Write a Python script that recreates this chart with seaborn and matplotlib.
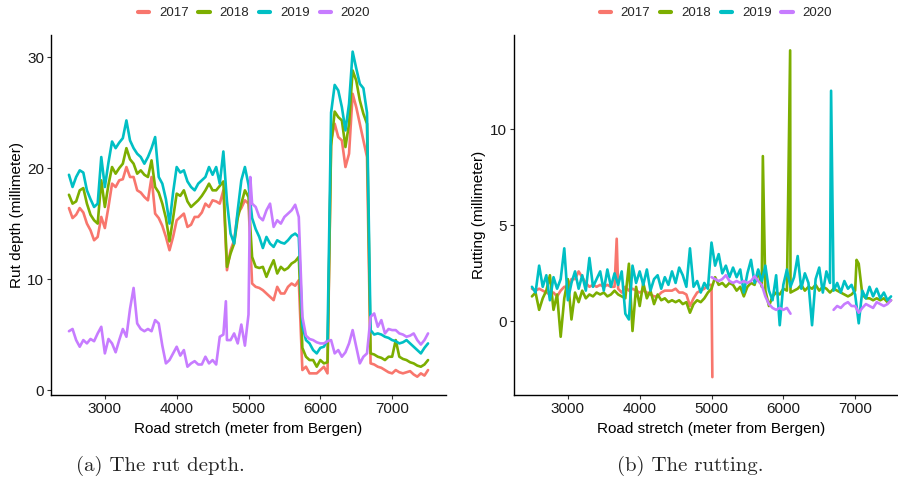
import numpy as np
import pandas as pd
import matplotlib
matplotlib.use("Agg")
import matplotlib.pyplot as plt
import seaborn as sns
from matplotlib.lines import Line2D

sns.set_theme(style="white")
plt.rcParams["font.family"] = ["Liberation Sans", "DejaVu Sans"]

years = ["2017", "2018", "2019", "2020"]
colors = ["#F8766D", "#7CAE00", "#00BFC4", "#C77CFF"]
stretch = list(range(2500, 7501, 50))
stretch_17r = list(range(2500, 5001, 50))
nan = np.nan

# ---------------- (a) rut depth ----------------
depth_2017 = [16.4, 15.5, 15.8, 16.4, 16.0, 15.0, 14.4, 13.5, 13.8, 15.6,
              14.6, 16.5, 18.6, 18.3, 18.9, 19.0, 20.1, 19.2, 19.2, 18.0,
              17.8, 17.4, 17.1, 19.2, 15.9, 15.5, 14.8, 13.8, 12.6, 13.8,
              15.3, 15.6, 15.9, 14.7, 14.9, 15.6, 15.6, 16.0, 16.8, 16.5,
              17.1, 17.0, 16.8, 18.0, 10.8, 12.6, 13.5, 15.9, 16.4, 17.1,
              16.8, 9.6, 9.3, 9.2, 9.0, 8.7, 8.4, 8.1, 9.3, 8.7,
              8.7, 9.3, 9.6, 9.4, 9.9, 1.8, 2.1, 1.5, 1.5, 1.5,
              1.8, 2.1, 1.5, 22.5, 24.0, 22.8, 22.5, 20.1, 21.3, 26.7,
              25.5, 24.0, 22.5, 21.0, 2.4, 2.3, 2.1, 2.0, 1.8, 1.6,
              1.5, 1.8, 1.6, 1.5, 1.6, 1.7, 1.4, 1.2, 1.5, 1.3,
              1.8]
depth_2018 = [17.6, 16.8, 17.0, 18.0, 18.2, 16.8, 15.8, 15.3, 15.0, 18.9,
              16.5, 18.5, 20.1, 19.5, 20.0, 20.4, 21.8, 20.8, 20.4, 19.5,
              19.8, 19.4, 19.2, 20.7, 18.3, 17.8, 16.8, 15.5, 13.4, 15.5,
              17.7, 17.5, 18.0, 17.0, 16.5, 16.8, 17.1, 17.5, 18.0, 18.6,
              18.0, 18.0, 18.4, 18.8, 11.1, 12.3, 13.2, 15.5, 16.8, 18.0,
              17.4, 12.0, 11.1, 11.0, 11.1, 10.2, 11.0, 11.7, 10.5, 11.1,
              10.8, 11.0, 11.4, 11.6, 12.0, 3.8, 3.0, 2.7, 2.7, 2.1,
              2.7, 2.4, 2.5, 22.0, 25.1, 24.6, 24.3, 21.9, 24.0, 28.8,
              27.9, 26.1, 24.9, 24.0, 3.3, 3.2, 3.0, 2.9, 2.7, 3.0,
              3.0, 4.5, 3.0, 2.8, 2.7, 2.5, 2.4, 2.2, 2.1, 2.3,
              2.7]
depth_2019 = [19.4, 18.3, 19.2, 19.8, 19.6, 18.0, 17.2, 16.5, 16.8, 21.0,
              18.3, 20.5, 22.4, 21.8, 22.3, 22.7, 24.3, 22.5, 21.8, 21.3,
              21.0, 20.4, 21.0, 21.8, 22.8, 19.2, 18.6, 17.2, 15.0, 17.8,
              20.1, 19.6, 19.8, 18.8, 18.3, 18.0, 18.6, 18.9, 19.2, 20.1,
              19.4, 20.1, 18.6, 21.5, 17.0, 14.1, 13.2, 16.2, 18.9, 20.1,
              18.5, 15.5, 14.5, 13.8, 12.8, 13.8, 13.2, 12.9, 13.5, 13.3,
              13.2, 13.5, 13.9, 14.1, 13.8, 5.8, 4.5, 4.2, 3.6, 3.3,
              3.8, 3.9, 4.5, 25.0, 27.5, 27.0, 25.5, 23.4, 25.8, 30.5,
              29.0, 27.6, 27.2, 25.0, 5.4, 5.0, 5.1, 5.0, 4.8, 4.7,
              4.5, 4.4, 4.2, 4.3, 4.5, 4.2, 3.9, 3.6, 3.3, 3.8,
              4.2]
depth_2020 = [5.3, 5.5, 4.5, 3.9, 4.5, 4.2, 4.6, 4.4, 5.1, 5.7,
              3.3, 4.6, 4.2, 3.4, 4.5, 5.5, 4.8, 7.3, 9.2, 6.0,
              5.5, 5.3, 5.5, 5.3, 6.3, 6.0, 4.0, 2.4, 2.7, 3.3,
              3.9, 3.1, 3.6, 2.1, 2.4, 2.6, 2.3, 2.3, 3.0, 2.4,
              2.7, 2.3, 4.8, 5.0, 4.5, 4.5, 5.1, 4.2, 5.9, 4.0,
              6.8, 16.8, 16.5, 15.6, 15.3, 16.2, 16.8, 14.7, 15.3, 15.0,
              15.6, 15.9, 16.2, 16.7, 15.6, 6.6, 4.9, 4.6, 4.5, 4.3,
              4.2, 4.2, 4.4, 4.5, 3.3, 3.6, 3.0, 3.4, 4.2, 5.4,
              3.9, 2.4, 3.0, 3.3, 6.6, 6.9, 5.7, 6.3, 5.1, 5.5,
              5.4, 5.4, 5.1, 5.0, 4.8, 4.9, 5.1, 4.5, 4.1, 4.5,
              5.1]
depth_2020_extra_x = [4685, 5025]
depth_2020_extra_y = [8.0, 19.2]

# ---------------- (b) rutting ----------------
rut_2017 = [1.7, 1.6, 1.7, 1.6, 1.5, 1.4, 1.5, 1.3, 1.6, 1.8,
            1.8, 2.2, 2.2, 2.6, 2.3, 2.0, 1.8, 1.9, 1.8, 1.9,
            1.8, 1.9, 1.8, 1.8, 1.7, 1.5, 1.8, 1.6, 1.7, 1.6,
            1.5, 1.6, 1.5, 1.4, 1.3, 1.3, 1.5, 1.6, 1.6, 1.6,
            1.7, 1.5, 1.5, 1.4, 0.8, 1.2, 1.5, 1.6, 1.7, 1.9,
            1.9]
rut_2017_extra_x = [3680, 5012]
rut_2017_extra_y = [4.3, -2.9]
rut_2018 = [1.3, 1.5, 0.6, 1.2, 1.6, 2.4, 0.6, 1.4, -0.8, 1.2,
            2.2, 0.1, 1.5, 1.0, 1.6, 1.2, 1.4, 1.3, 1.5, 1.4,
            1.5, 1.3, 1.4, 1.6, 1.4, 1.3, 1.2, 3.0, -0.5, 1.8,
            0.8, 2.0, 1.2, 1.6, 0.9, 1.4, 1.1, 1.2, 1.0, 1.1,
            1.0, 1.1, 0.9, 1.0, 0.45, 0.9, 1.1, 1.0, 1.2, 1.5,
            1.7, 2.3, 1.9, 2.0, 1.8, 2.0, 1.9, 1.6, 1.8, 1.3,
            1.8, 2.0, 1.9, 2.6, 1.8, 1.6, 0.8, 1.3, 1.5, 1.4,
            1.7, 1.6, 1.5, 1.6, 1.7, 1.9, 1.6, 1.8, 1.7, 1.9,
            1.6, 1.8, 1.7, 1.5, 1.7, 1.6, 1.5, 1.4, 1.3, 1.4,
            1.6, 3.0, 1.4, 1.2, 1.2, 1.1, 1.2, 1.1, 1.2, 1.0,
            1.1]
rut_2018_extra_x = [5715, 6095, 7020]
rut_2018_extra_y = [8.6, 14.1, 3.2]
rut_2019 = [1.8, 1.5, 2.9, 1.8, 2.4, 1.1, 2.3, 1.7, 2.2, 3.8,
            1.1, 2.0, 2.6, 1.7, 2.4, 1.6, 3.3, 1.8, 2.2, 2.6,
            1.6, 2.7, 1.8, 2.5, 1.9, 2.6, 0.4, 0.1, 2.9, 2.0,
            2.6, 1.9, 2.7, 1.6, 2.2, 2.4, 1.7, 2.3, 1.9, 2.6,
            2.0, 2.8, 2.4, 1.8, 3.8, 1.8, 2.1, 1.5, 2.0, 1.7,
            4.1, 2.9, 3.5, 2.5, 2.9, 2.3, 2.8, 2.3, 2.7, 1.5,
            2.5, 3.2, 2.0, 2.7, 2.1, 2.9, 1.6, 1.1, 2.4, -0.2,
            1.9, 2.7, 1.8, 2.3, 3.4, 1.7, 2.5, 2.0, -0.2, 2.2,
            2.8, 1.5, 2.6, 2.0, 1.6, 2.0, 1.5, 2.1, 1.7, 1.9,
            1.4, -0.1, 1.6, 1.2, 1.8, 1.3, 1.7, 1.2, 1.5, 1.1,
            1.3]
rut_2019_extra_x = [6665]
rut_2019_extra_y = [12.0]
rut_2020 = [nan] * 50 + [
            2.3, 2.2, 2.1, 2.2, 2.4, 2.1, 2.0, 2.1, 2.0, 2.1,
            2.0, 2.1, 2.35, 2.1, 1.9, 1.3, 0.9, 0.7, 0.6, 0.7,
            0.6, 0.7, 0.4, nan, nan, nan, nan, nan, nan, nan,
            nan, nan, nan, nan, 0.6, 0.8, 0.7, 0.9, 1.0, 0.8,
            0.8, 0.45, 0.7, 0.9, 0.8, 0.7, 1.0, 0.9, 0.8, 0.9,
            1.1]


def frame(year, xs, ys, ex_x=(), ex_y=()):
    d = pd.DataFrame({"stretch": list(xs) + list(ex_x),
                      "value": list(ys) + list(ex_y)})
    d = d.sort_values("stretch").reset_index(drop=True)
    seg = d["value"].isna().cumsum()
    d["seg"] = year + "_" + seg.astype(str)
    d["year"] = year
    return d.dropna()


df_a = pd.concat([
    frame("2017", stretch, depth_2017),
    frame("2018", stretch, depth_2018),
    frame("2019", stretch, depth_2019),
    frame("2020", stretch, depth_2020, depth_2020_extra_x, depth_2020_extra_y),
])
df_b = pd.concat([
    frame("2017", stretch_17r, rut_2017, rut_2017_extra_x, rut_2017_extra_y),
    frame("2018", stretch, rut_2018, rut_2018_extra_x, rut_2018_extra_y),
    frame("2019", stretch, rut_2019, rut_2019_extra_x, rut_2019_extra_y),
    frame("2020", stretch, rut_2020),
])

W, H = 898, 483
fig = plt.figure(figsize=(W / 100, H / 100), dpi=100)
pal = dict(zip(years, colors))

ax1 = fig.add_axes([51 / W, 1 - 395 / H, 395 / W, 360 / H])
ax2 = fig.add_axes([514 / W, 1 - 395 / H, 395 / W, 360 / H])

for ax, d, lx in ((ax1, df_a, 0.514), (ax2, df_b, 0.511)):
    sns.lineplot(data=d, x="stretch", y="value", hue="year", hue_order=years,
                 units="seg", estimator=None, palette=pal, lw=1.9,
                 legend=False, ax=ax, sort=True)
    ax.set_facecolor("white")
    for s in ("top", "right"):
        ax.spines[s].set_visible(False)
    for s in ("left", "bottom"):
        ax.spines[s].set_color("black")
        ax.spines[s].set_linewidth(1.0)
    ax.set_xlim(2250, 7750)
    ax.set_xticks([3000, 4000, 5000, 6000, 7000])
    ax.tick_params(axis="both", length=3, width=0.8, color="#333333",
                   labelsize=11, labelcolor="#1a1a1a", pad=2,
                   bottom=True, left=True)
    ax.set_xlabel("Road stretch (meter from Bergen)", fontsize=11, color="black")
    ax.xaxis.set_label_coords(0.5, -0.075)
    ax.grid(False)
    handles = [Line2D([], [], color=c, lw=3) for c in colors]
    ax.legend(handles, years, loc="center", bbox_to_anchor=(lx, 1.061),
              ncol=4, frameon=False, fontsize=9.5, handlelength=0.85,
              handletextpad=0.75, columnspacing=0.75, borderpad=0.2)

ax1.set_ylim(-0.45, 32.0)
ax1.set_yticks([0, 10, 20, 30])
ax1.set_ylabel("Rut depth (millimeter)", fontsize=11, color="black")
ax1.yaxis.set_label_coords(-0.068, 0.5)

ax2.set_ylim(-3.83, 14.9)
ax2.set_yticks([0, 5, 10])
ax2.set_ylabel("Rutting (millimeter)", fontsize=11, color="black")
ax2.yaxis.set_label_coords(-0.072, 0.5)

fig.text(160 / W, 1 - 466 / H, "(a) The rut depth.", family="cmr10",
         fontsize=15, ha="center", va="center")
fig.text(690 / W, 1 - 466 / H, "(b) The rutting.", family="cmr10",
         fontsize=15, ha="center", va="center")

fig.savefig("out.png", dpi=100)
